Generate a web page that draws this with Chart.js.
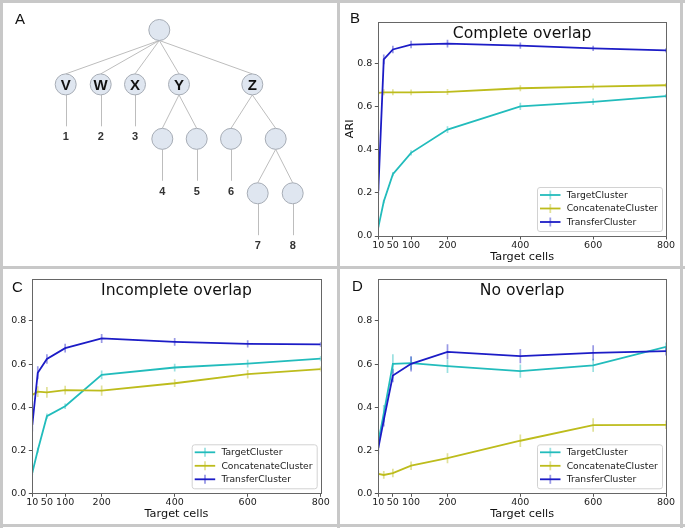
<!DOCTYPE html>
<html>
<head>
<meta charset="utf-8">
<script src="https://cdn.jsdelivr.net/npm/chart.js@4.4.0/dist/chart.umd.min.js"></script>
<style>
  html, body { margin: 0; padding: 0; background: #fff; }
  #fig { position: relative; width: 685px; height: 528px; background: #fff; overflow: hidden; }
  .panel { position: absolute; }
  .rule { position: absolute; background: #c8c8c8; z-index: 5; }
  .tag { position: absolute; font: 15px "Liberation Sans", Arial, sans-serif; color: #111; z-index: 6; line-height: 15px; }
</style>
</head>
<body>
<div id="fig">
  <div class="panel" style="left:0;top:0;width:337px;height:266px"><canvas id="treeChart"></canvas></div>
  <div class="panel" style="left:340px;top:3px;width:340px;height:263px"><canvas id="completeChart"></canvas></div>
  <div class="panel" style="left:3px;top:269px;width:334px;height:255px"><canvas id="incompleteChart"></canvas></div>
  <div class="panel" style="left:340px;top:269px;width:340px;height:255px"><canvas id="noChart"></canvas></div>

  <div class="rule" style="left:0;top:0;width:685px;height:3px"></div>
  <div class="rule" style="left:0;top:524px;width:685px;height:3px"></div>
  <div class="rule" style="left:0;top:0;width:3px;height:528px"></div>
  <div class="rule" style="left:680px;top:0;width:3px;height:528px"></div>
  <div class="rule" style="left:337px;top:0;width:3px;height:528px"></div>
  <div class="rule" style="left:0;top:266px;width:685px;height:3px"></div>

  <div class="tag" style="left:15px;top:11px">A</div>
  <div class="tag" style="left:350px;top:10px">B</div>
  <div class="tag" style="left:12px;top:279px">C</div>
  <div class="tag" style="left:352px;top:278px">D</div>
</div>

<script>
// ---- panel A: tree ----
const nodeIds     = ['root', 'V', 'W', 'X', 'Y', 'Z', 'Y1', 'Y2', 'Z1', 'Z2', 'Z21', 'Z22'];
const nodeParents = [null, 'root', 'root', 'root', 'root', 'root', 'Y', 'Y', 'Z', 'Z', 'Z2', 'Z2'];
const nodeCols    = [159.3, 65.7, 100.7, 135, 179, 252.3, 162.3, 196.7, 231, 275.7, 257.7, 292.7];
const nodeDepths  = [0, 1, 1, 1, 1, 1, 2, 2, 2, 2, 3, 3];
const nodeLabels  = ['', 'V', 'W', 'X', 'Y', 'Z', '', '', '', '', '', ''];
const leafNodes   = ['V', 'W', 'X', 'Y1', 'Y2', 'Z1', 'Z21', 'Z22'];
const leafLabels  = ['1', '2', '3', '4', '5', '6', '7', '8'];

// ---- panels B-D: ARI curves ----
const cellCounts = [10, 25, 50, 100, 200, 400, 600, 800];
const xTicks = [10, 50, 100, 200, 400, 600, 800];
const yTicks = [0, 0.2, 0.4, 0.6, 0.8];
const seriesNames = ['TargetCluster', 'ConcatenateCluster', 'TransferCluster'];

const completeTarget   = [0.04, 0.16, 0.287, 0.386, 0.494, 0.602, 0.623, 0.649];
const completeConcat   = [0.665, 0.667, 0.667, 0.667, 0.669, 0.686, 0.694, 0.700];
const completeTransfer = [0.21, 0.82, 0.866, 0.889, 0.893, 0.884, 0.871, 0.862];
const completeTargetErr   = [0.005, 0.008, 0.01, 0.012, 0.016, 0.017, 0.015, 0.01];
const completeConcatErr   = [0.012, 0.014, 0.014, 0.013, 0.014, 0.014, 0.014, 0.01];
const completeTransferErr = [0.02, 0.023, 0.017, 0.017, 0.018, 0.015, 0.012, 0.01];

const incompleteTarget   = [0.095, 0.2, 0.358, 0.404, 0.55, 0.584, 0.602, 0.625];
const incompleteConcat   = [0.457, 0.472, 0.469, 0.479, 0.477, 0.511, 0.553, 0.577];
const incompleteTransfer = [0.317, 0.56, 0.624, 0.674, 0.719, 0.703, 0.694, 0.691];
const incompleteTargetErr   = [0.01, 0.012, 0.012, 0.013, 0.02, 0.018, 0.018, 0.012];
const incompleteConcatErr   = [0.02, 0.025, 0.025, 0.02, 0.024, 0.018, 0.02, 0.012];
const incompleteTransferErr = [0.03, 0.03, 0.022, 0.02, 0.021, 0.018, 0.017, 0.012];

const noTarget   = [0.24, 0.37, 0.601, 0.604, 0.59, 0.567, 0.594, 0.68];
const noConcat   = [0.09, 0.085, 0.094, 0.128, 0.163, 0.244, 0.317, 0.318];
const noTransfer = [0.21, 0.34, 0.547, 0.601, 0.657, 0.637, 0.652, 0.66];
const noTargetErr   = [0.03, 0.04, 0.045, 0.03, 0.031, 0.031, 0.031, 0.02];
const noConcatErr   = [0.012, 0.018, 0.02, 0.02, 0.023, 0.029, 0.031, 0.02];
const noTransferErr = [0.03, 0.03, 0.031, 0.035, 0.035, 0.033, 0.035, 0.02];

const FONT = '"DejaVu Sans", sans-serif';
const lineColors = ['#22bcbc', '#bdbc1c', '#1c1cc6'];
const barColors = ['rgba(34,188,188,0.45)', 'rgba(189,188,28,0.45)', 'rgba(28,28,198,0.45)'];

// tree drawing: edges under the nodes, letters on top
const NODE_R = 10.5;
const treeDeco = {
  id: 'treeDeco',
  beforeDatasetsDraw(chart) {
    const { ctx, scales: { x, y } } = chart;
    ctx.save();
    ctx.strokeStyle = '#bdbdbd';
    ctx.lineWidth = 1;
    nodeIds.forEach((id, i) => {
      const p = nodeIds.indexOf(nodeParents[i]);
      if (p < 0) return;
      ctx.beginPath();
      ctx.moveTo(x.getPixelForValue(nodeCols[p]), y.getPixelForValue(nodeDepths[p]) + NODE_R);
      ctx.lineTo(x.getPixelForValue(nodeCols[i]), y.getPixelForValue(nodeDepths[i]) - NODE_R);
      ctx.stroke();
    });
    leafNodes.forEach(id => {
      const i = nodeIds.indexOf(id);
      const px = Math.round(x.getPixelForValue(nodeCols[i])) + 0.5;
      ctx.beginPath();
      ctx.moveTo(px, y.getPixelForValue(nodeDepths[i]) + NODE_R);
      ctx.lineTo(px, y.getPixelForValue(nodeDepths[i] + 0.77));
      ctx.stroke();
    });
    ctx.restore();
  },
  afterDatasetsDraw(chart) {
    const { ctx, scales: { x, y } } = chart;
    ctx.save();
    ctx.textAlign = 'center';
    ctx.textBaseline = 'middle';
    ctx.fillStyle = '#111';
    ctx.font = 'bold 15px "Liberation Sans", Arial, sans-serif';
    nodeIds.forEach((id, i) => {
      if (!nodeLabels[i]) return;
      ctx.fillText(nodeLabels[i], x.getPixelForValue(nodeCols[i]), y.getPixelForValue(nodeDepths[i]) + 1);
    });
    ctx.fillStyle = '#333';
    ctx.font = 'bold 11px "Liberation Sans", Arial, sans-serif';
    leafNodes.forEach((id, k) => {
      const i = nodeIds.indexOf(id);
      ctx.fillText(leafLabels[k], x.getPixelForValue(nodeCols[i]), y.getPixelForValue(nodeDepths[i] + 0.95) + 1);
    });
    ctx.restore();
  }
};

new Chart(document.getElementById('treeChart'), {
  type: 'scatter',
  data: {
    datasets: [{
      data: nodeIds.map((id, i) => ({ x: nodeCols[i], y: nodeDepths[i] })),
      pointRadius: NODE_R,
      pointBackgroundColor: '#dfe6f0',
      pointBorderColor: '#a6acb5',
      pointBorderWidth: 1
    }]
  },
  options: {
    responsive: true, maintainAspectRatio: false, animation: false, events: [],
    layout: { padding: 0, autoPadding: false },
    plugins: { legend: { display: false }, tooltip: { enabled: false } },
    scales: {
      x: { type: 'linear', display: false, min: 0, max: 337 },
      y: { type: 'linear', display: false, reverse: true, min: -0.551, max: 4.336 }
    }
  },
  plugins: [treeDeco]
});

// error bars, frame, inner title and legend for the curve panels
const curveDeco = {
  id: 'curveDeco',
  beforeDatasetsDraw(chart) {
    const { ctx, chartArea: a, scales: { x, y } } = chart;
    ctx.save();
    ctx.beginPath();
    ctx.rect(a.left, a.top, a.width, a.height);
    ctx.clip();
    ctx.lineWidth = 1.7;
    chart.data.datasets.forEach(ds => {
      ctx.strokeStyle = ds.barColor;
      ds.data.forEach((p, i) => {
        const px = x.getPixelForValue(p.x);
        ctx.beginPath();
        ctx.moveTo(px, y.getPixelForValue(p.y - ds.errors[i]));
        ctx.lineTo(px, y.getPixelForValue(p.y + ds.errors[i]));
        ctx.stroke();
      });
    });
    ctx.restore();
  },
  afterDraw(chart, args, opts) {
    const { ctx, chartArea: a } = chart;
    ctx.save();
    ctx.strokeStyle = '#666';
    ctx.lineWidth = 1;
    ctx.strokeRect(Math.round(a.left) + 0.5, Math.round(a.top) + 0.5,
                   Math.round(a.right) - Math.round(a.left), Math.round(a.bottom) - Math.round(a.top));

    ctx.fillStyle = '#111';
    ctx.font = '15.6px ' + FONT;
    ctx.textAlign = 'center';
    ctx.textBaseline = 'middle';
    ctx.fillText(opts.title, (a.left + a.right) / 2, a.top + 12);

    // legend, lower right
    const w = 125, h = 44;
    const bx = a.right - 4 - w, by = a.bottom - 5 - h;
    ctx.fillStyle = 'rgba(255,255,255,0.85)';
    ctx.strokeStyle = '#d2d2d2';
    ctx.beginPath();
    ctx.roundRect(bx + 0.5, by + 0.5, w, h, 2.5);
    ctx.fill();
    ctx.stroke();
    ctx.font = '9.2px ' + FONT;
    ctx.textAlign = 'left';
    chart.data.datasets.forEach((ds, i) => {
      const cy = by + 8 + i * 13.5;
      ctx.strokeStyle = ds.borderColor;
      ctx.lineWidth = 1.8;
      ctx.beginPath();
      ctx.moveTo(bx + 3, cy);
      ctx.lineTo(bx + 23.5, cy);
      ctx.stroke();
      ctx.strokeStyle = ds.barColor;
      ctx.beginPath();
      ctx.moveTo(bx + 13.3, cy - 4.5);
      ctx.lineTo(bx + 13.3, cy + 4.5);
      ctx.stroke();
      ctx.fillStyle = '#1a1a1a';
      ctx.fillText(ds.label, bx + 29.7, cy + 0.5);
    });
    ctx.restore();
  }
};

function curveChart(canvasId, cfg) {
  const values = [cfg.target, cfg.concat, cfg.transfer];
  const errors = [cfg.targetErr, cfg.concatErr, cfg.transferErr];
  return new Chart(document.getElementById(canvasId), {
    type: 'line',
    data: {
      datasets: seriesNames.map((name, k) => ({
        label: name,
        data: cellCounts.map((c, i) => ({ x: c, y: values[k][i] })),
        errors: errors[k],
        barColor: barColors[k],
        borderColor: lineColors[k],
        borderWidth: 1.8,
        pointRadius: 0,
        tension: 0,
        order: 2 - k
      }))
    },
    options: {
      responsive: true, maintainAspectRatio: false, animation: false, events: [],
      layout: { padding: cfg.pad, autoPadding: false },
      plugins: {
        legend: { display: false },
        tooltip: { enabled: false },
        curveDeco: { title: cfg.title }
      },
      scales: {
        x: {
          type: 'linear', min: 10, max: 800,
          afterBuildTicks: ax => { ax.ticks = xTicks.map(v => ({ value: v })); },
          afterFit: ax => { ax.height = cfg.xHeight; },
          grid: { drawOnChartArea: false, tickLength: 3.5, tickColor: '#555' },
          border: { display: false },
          ticks: { autoSkip: false, maxRotation: 0, padding: 0, color: '#1a1a1a',
                   font: { family: FONT, size: 9.5 }, callback: v => String(v) },
          title: { display: true, text: 'Target cells', color: '#111',
                   font: { family: FONT, size: 11.3 },
                   padding: { top: 0, bottom: cfg.xHeight - 27.6 } }
        },
        y: {
          type: 'linear', min: 0, max: 0.995,
          afterBuildTicks: ax => { ax.ticks = yTicks.map(v => ({ value: v })); },
          afterFit: ax => { ax.width = cfg.yWidth; },
          grid: { drawOnChartArea: false, tickLength: 3.5, tickColor: '#555' },
          border: { display: false },
          ticks: { padding: 2.5, color: '#1a1a1a', font: { family: FONT, size: 9.5 },
                   callback: v => v.toFixed(1) },
          title: { display: !!cfg.yLabel, text: cfg.yLabel || '', color: '#111',
                   font: { family: FONT, size: 11.3 }, padding: { top: 3.2, bottom: 0 } }
        }
      }
    },
    plugins: [curveDeco]
  });
}

curveChart('completeChart', {
  title: 'Complete overlap', yLabel: 'ARI',
  target: completeTarget, concat: completeConcat, transfer: completeTransfer,
  targetErr: completeTargetErr, concatErr: completeConcatErr, transferErr: completeTransferErr,
  pad: { left: 0.3, top: 18.7, right: 14, bottom: 0 }, yWidth: 38, xHeight: 30
});

curveChart('incompleteChart', {
  title: 'Incomplete overlap',
  target: incompleteTarget, concat: incompleteConcat, transfer: incompleteTransfer,
  targetErr: incompleteTargetErr, concatErr: incompleteConcatErr, transferErr: incompleteTransferErr,
  pad: { left: 0, top: 10, right: 16.3, bottom: 0 }, yWidth: 29.3, xHeight: 30.7
});

curveChart('noChart', {
  title: 'No overlap',
  target: noTarget, concat: noConcat, transfer: noTransfer,
  targetErr: noTargetErr, concatErr: noConcatErr, transferErr: noTransferErr,
  pad: { left: 0.3, top: 10, right: 14, bottom: 0 }, yWidth: 38, xHeight: 30.7
});
</script>
</body>
</html>
